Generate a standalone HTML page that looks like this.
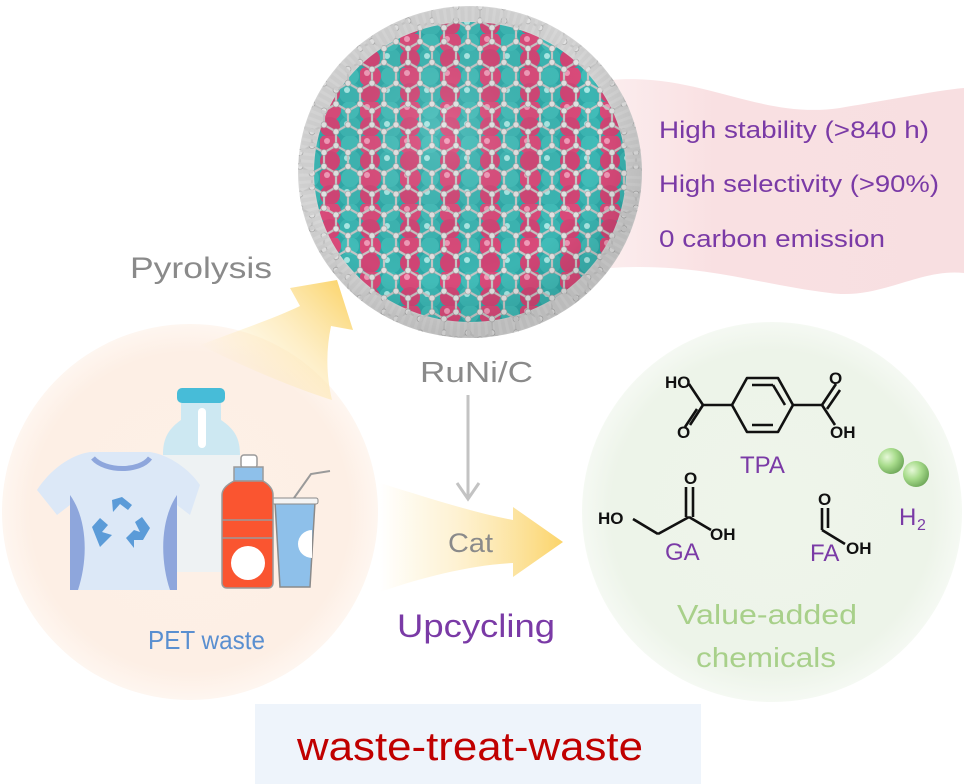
<!DOCTYPE html>
<html><head><meta charset="utf-8"><style>
html,body{margin:0;padding:0;background:#fff}
svg{display:block}
text{font-family:"Liberation Sans",sans-serif}
</style></head><body>
<svg width="964" height="784" viewBox="0 0 964 784" xmlns="http://www.w3.org/2000/svg">
<defs>
<linearGradient id="rib" x1="0" x2="1" y1="0" y2="0">
<stop offset="0" stop-color="#f9e0e2" stop-opacity="0.6"/><stop offset="0.3" stop-color="#f9e0e2"/><stop offset="1" stop-color="#f8dfe1"/></linearGradient>
<linearGradient id="yh" x1="380" x2="563" y1="0" y2="0" gradientUnits="userSpaceOnUse">
<stop offset="0" stop-color="#fde9b0" stop-opacity="0"/><stop offset="0.4" stop-color="#fdeab8" stop-opacity="0.6"/><stop offset="1" stop-color="#fbd46a"/></linearGradient>
<linearGradient id="yp" x1="240" y1="390" x2="350" y2="285" gradientUnits="userSpaceOnUse">
<stop offset="0" stop-color="#fde9b0" stop-opacity="0"/><stop offset="0.5" stop-color="#fde7ae" stop-opacity="0.7"/><stop offset="1" stop-color="#fbd46a"/></linearGradient>
<radialGradient id="peach" cx="0.5" cy="0.5" r="0.5"><stop offset="0" stop-color="#fdf0e6"/><stop offset="0.85" stop-color="#fdefe5"/><stop offset="1" stop-color="#fef6f0"/></radialGradient>
<radialGradient id="green" cx="0.5" cy="0.5" r="0.5"><stop offset="0" stop-color="#eef5ea"/><stop offset="0.85" stop-color="#edf4e9"/><stop offset="1" stop-color="#f5f9f3"/></radialGradient>
<pattern id="balls" width="40" height="34" patternUnits="userSpaceOnUse">
<rect width="40" height="34" fill="#2fa9a8"/>
<circle cx="10" cy="8" r="11" fill="#d94a7a"/><circle cx="30" cy="25" r="11" fill="#3bb5b2"/>
<circle cx="30" cy="8" r="9" fill="#41bcb8"/><circle cx="10" cy="25" r="10" fill="#d04575"/>
<circle cx="7" cy="5" r="3" fill="#f19ab8"/><circle cx="27" cy="22" r="3" fill="#a8e8e4"/>
</pattern>
<pattern id="mesh" width="24" height="41.6" patternUnits="userSpaceOnUse">
<path d="M0,6.9 L12,0 L24,6.9 M0,6.9 L0,20.8 L12,27.7 L24,20.8 L24,6.9 M12,27.7 L12,41.6" stroke="#c6c6c6" stroke-width="2.2" fill="none"/>
<g fill="#e2e2e2" stroke="#a0a0a0" stroke-width="0.6"><circle cx="0" cy="6.9" r="3"/><circle cx="12" cy="0" r="3"/><circle cx="24" cy="6.9" r="3"/><circle cx="0" cy="20.8" r="3"/><circle cx="24" cy="20.8" r="3"/><circle cx="12" cy="27.7" r="3"/><circle cx="12" cy="41.6" r="3"/></g>
</pattern>
<radialGradient id="shade" cx="0.42" cy="0.38" r="0.6"><stop offset="0" stop-color="#fff" stop-opacity="0.12"/><stop offset="0.75" stop-color="#000" stop-opacity="0"/><stop offset="1" stop-color="#000" stop-opacity="0.1"/></radialGradient>
<radialGradient id="h2" cx="0.35" cy="0.35" r="0.7"><stop offset="0" stop-color="#e6f8d8"/><stop offset="0.5" stop-color="#a8dc8c"/><stop offset="1" stop-color="#6fa85a"/></radialGradient>
</defs>

<path d="M610,80 C700,72 760,120 840,108 C900,98 940,90 964,88 L964,273 C920,268 880,300 830,293 C760,285 700,262 610,268 Z" fill="url(#rib)"/>
<text x="659" y="138" font-size="24" fill="#7a3aa6" textLength="270" lengthAdjust="spacingAndGlyphs">High stability (&gt;840 h)</text>
<text x="659" y="192" font-size="24" fill="#7a3aa6" textLength="280" lengthAdjust="spacingAndGlyphs">High selectivity (&gt;90%)</text>
<text x="659" y="247" font-size="24" fill="#7a3aa6" textLength="226" lengthAdjust="spacingAndGlyphs">0 carbon emission</text>

<circle cx="190" cy="512" r="188" fill="url(#peach)"/>
<circle cx="772" cy="512" r="190" fill="url(#green)"/>

<path d="M200,345 C240,330 275,318 300,306 L290,288 L337,280 L353,330 L331,326 C326,350 326,375 332,400 C300,390 250,370 200,345 Z" fill="url(#yp)"/>
<path d="M370,480 C420,495 470,512 513,520 L513,507 L563,542 L513,577 L513,563 C470,565 420,578 380,592 Z" fill="url(#yh)"/>

<ellipse cx="470" cy="172" rx="172" ry="166" fill="#d6d6d6"/>
<ellipse cx="470" cy="172" rx="156" ry="150" fill="url(#balls)"/>
<ellipse cx="470" cy="172" rx="172" ry="166" fill="url(#mesh)"/>
<ellipse cx="470" cy="172" rx="164" ry="158" fill="none" stroke="#cfcfcf" stroke-width="14" stroke-dasharray="4 3" opacity="0.9"/>
<ellipse cx="470" cy="172" rx="172" ry="166" fill="url(#shade)"/>

<text x="130" y="278" font-size="30" fill="#8a8a8a" textLength="142" lengthAdjust="spacingAndGlyphs">Pyrolysis</text>
<text x="420" y="382" font-size="29" fill="#8a8a8a" textLength="113" lengthAdjust="spacingAndGlyphs">RuNi/C</text>
<line x1="468" y1="395" x2="468" y2="499" stroke="#c3c3c3" stroke-width="3"/>
<polyline points="457,483 468,499 479,483" fill="none" stroke="#c3c3c3" stroke-width="3"/>
<text x="448" y="552" font-size="27" fill="#8a8a8a" textLength="45" lengthAdjust="spacingAndGlyphs">Cat</text>
<text x="397" y="637" font-size="32" fill="#7a3aa6" textLength="158" lengthAdjust="spacingAndGlyphs">Upcycling</text>

<rect x="177" y="388" width="48" height="15" rx="5" fill="#47bcd8"/>
<path d="M181,403 L221,403 L221,420 C236,430 240,440 240,455 L240,565 C240,570 236,572 232,572 L171,572 C166,572 163,570 163,565 L163,455 C163,440 167,430 181,420 Z" fill="#cde8f2"/>
<path d="M163,455 L240,455 L240,565 C240,570 236,572 232,572 L171,572 C166,572 163,570 163,565 Z" fill="#eef2f3"/>
<rect x="198" y="408" width="8" height="40" rx="4" fill="#fff"/>
<path d="M90,452 L150,452 C170,455 190,470 200,485 L190,515 L177,505 L177,590 L70,590 L70,505 L57,515 L37,490 C50,470 70,455 90,452 Z" fill="#dce8f7"/>
<path d="M70,495 C88,520 88,560 78,590 L70,590 Z M177,495 C160,520 160,560 170,590 L177,590 Z" fill="#8ea6dc"/>
<path d="M93,458 C105,472 140,472 150,458" fill="none" stroke="#8ea6dc" stroke-width="5"/>
<g fill="#5b9bd8">
<path d="M112,500 L122,497 L132,505 L128,510 L120,504 L113,512 Z"/>
<path d="M92,527 L100,518 L108,525 L102,532 L112,535 L100,547 Z"/>
<path d="M135,522 L142,517 L150,528 L143,540 L134,540 L134,548 L126,538 L134,530 L140,532 Z"/>
</g>
<path d="M294,498 L311,474 L330,471" fill="none" stroke="#9a9a9a" stroke-width="2"/>
<path d="M275,502 L315,502 L310,587 L280,587 Z" fill="#8ec0ea" stroke="#8a8a8a" stroke-width="1.5"/>
<rect x="272" y="498" width="46" height="6" rx="2" fill="#f4f4f4" stroke="#8a8a8a" stroke-width="1"/>
<path d="M312,530 A14,14 0 0 0 312,558 Z" fill="#fff"/>
<rect x="241" y="455" width="16" height="13" rx="3" fill="#fff" stroke="#9a9a9a" stroke-width="1.5"/>
<rect x="234" y="467" width="29" height="14" fill="#8ec0ea" stroke="#9a9a9a" stroke-width="1.5"/>
<path d="M234,481 L263,481 C270,485 273,490 273,495 L273,583 C273,586 271,588 268,588 L227,588 C224,588 222,586 222,583 L222,495 C222,490 226,485 234,481 Z" fill="#fa5530" stroke="#9a9a9a" stroke-width="1.5"/>
<line x1="222" y1="520" x2="273" y2="520" stroke="#9a9a9a" stroke-width="1.5"/>
<line x1="222" y1="538" x2="273" y2="538" stroke="#9a9a9a" stroke-width="1.5"/>
<circle cx="248" cy="563" r="17" fill="#fff"/>
<text x="148" y="649" font-size="26" fill="#5a8fd0" textLength="117" lengthAdjust="spacingAndGlyphs">PET waste</text>

<g stroke="#111" stroke-width="2.6" fill="none" stroke-linejoin="round">
<polygon points="732,405 747,378 778,378 793,405 778,432 747,432"/>
<line x1="752" y1="385" x2="773" y2="385"/><line x1="752" y1="425" x2="773" y2="425"/><line x1="785" y1="405" x2="773" y2="385"/>
<line x1="732" y1="405" x2="703" y2="405"/><line x1="703" y1="405" x2="689" y2="384"/>
<line x1="703" y1="405" x2="690" y2="425"/><line x1="697" y1="409" x2="685" y2="427"/>
<line x1="793" y1="405" x2="822" y2="405"/><line x1="822" y1="405" x2="836" y2="384"/><line x1="827" y1="409" x2="840" y2="390"/>
<line x1="822" y1="405" x2="835" y2="425"/>
<line x1="633" y1="519" x2="658" y2="534"/><line x1="658" y1="534" x2="689" y2="517"/>
<line x1="686" y1="517" x2="686" y2="487"/><line x1="693" y1="517" x2="693" y2="487"/>
<line x1="689" y1="517" x2="711" y2="530"/>
<line x1="822" y1="508" x2="822" y2="530"/><line x1="828" y1="508" x2="828" y2="528"/>
<line x1="822" y1="530" x2="845" y2="544"/>
</g>
<g font-size="17" font-weight="bold" fill="#111">
<text x="665" y="388">HO</text><text x="677" y="438">O</text>
<text x="829" y="384">O</text><text x="830" y="438">OH</text>
<text x="598" y="524">HO</text><text x="684" y="484">O</text><text x="710" y="540">OH</text>
<text x="818" y="505">O</text><text x="846" y="554">OH</text>
</g>
<g fill="#7a3aa6" font-size="24">
<text x="740" y="473">TPA</text>
<text x="665" y="560">GA</text>
<text x="810" y="561">FA</text>
<text x="899" y="525">H</text><text x="917" y="530" font-size="16">2</text>
</g>
<circle cx="916" cy="474" r="13" fill="url(#h2)"/>
<circle cx="891" cy="461" r="13" fill="url(#h2)"/>
<text x="677" y="624" font-size="28" fill="#a8d08a" textLength="180" lengthAdjust="spacingAndGlyphs">Value-added</text>
<text x="696" y="667" font-size="28" fill="#a8d08a" textLength="140" lengthAdjust="spacingAndGlyphs">chemicals</text>

<rect x="255" y="704" width="446" height="80" fill="#eef4fb"/>
<text x="297" y="760" font-size="40" fill="#c00000" textLength="346" lengthAdjust="spacingAndGlyphs">waste-treat-waste</text>
</svg>
</body></html>
